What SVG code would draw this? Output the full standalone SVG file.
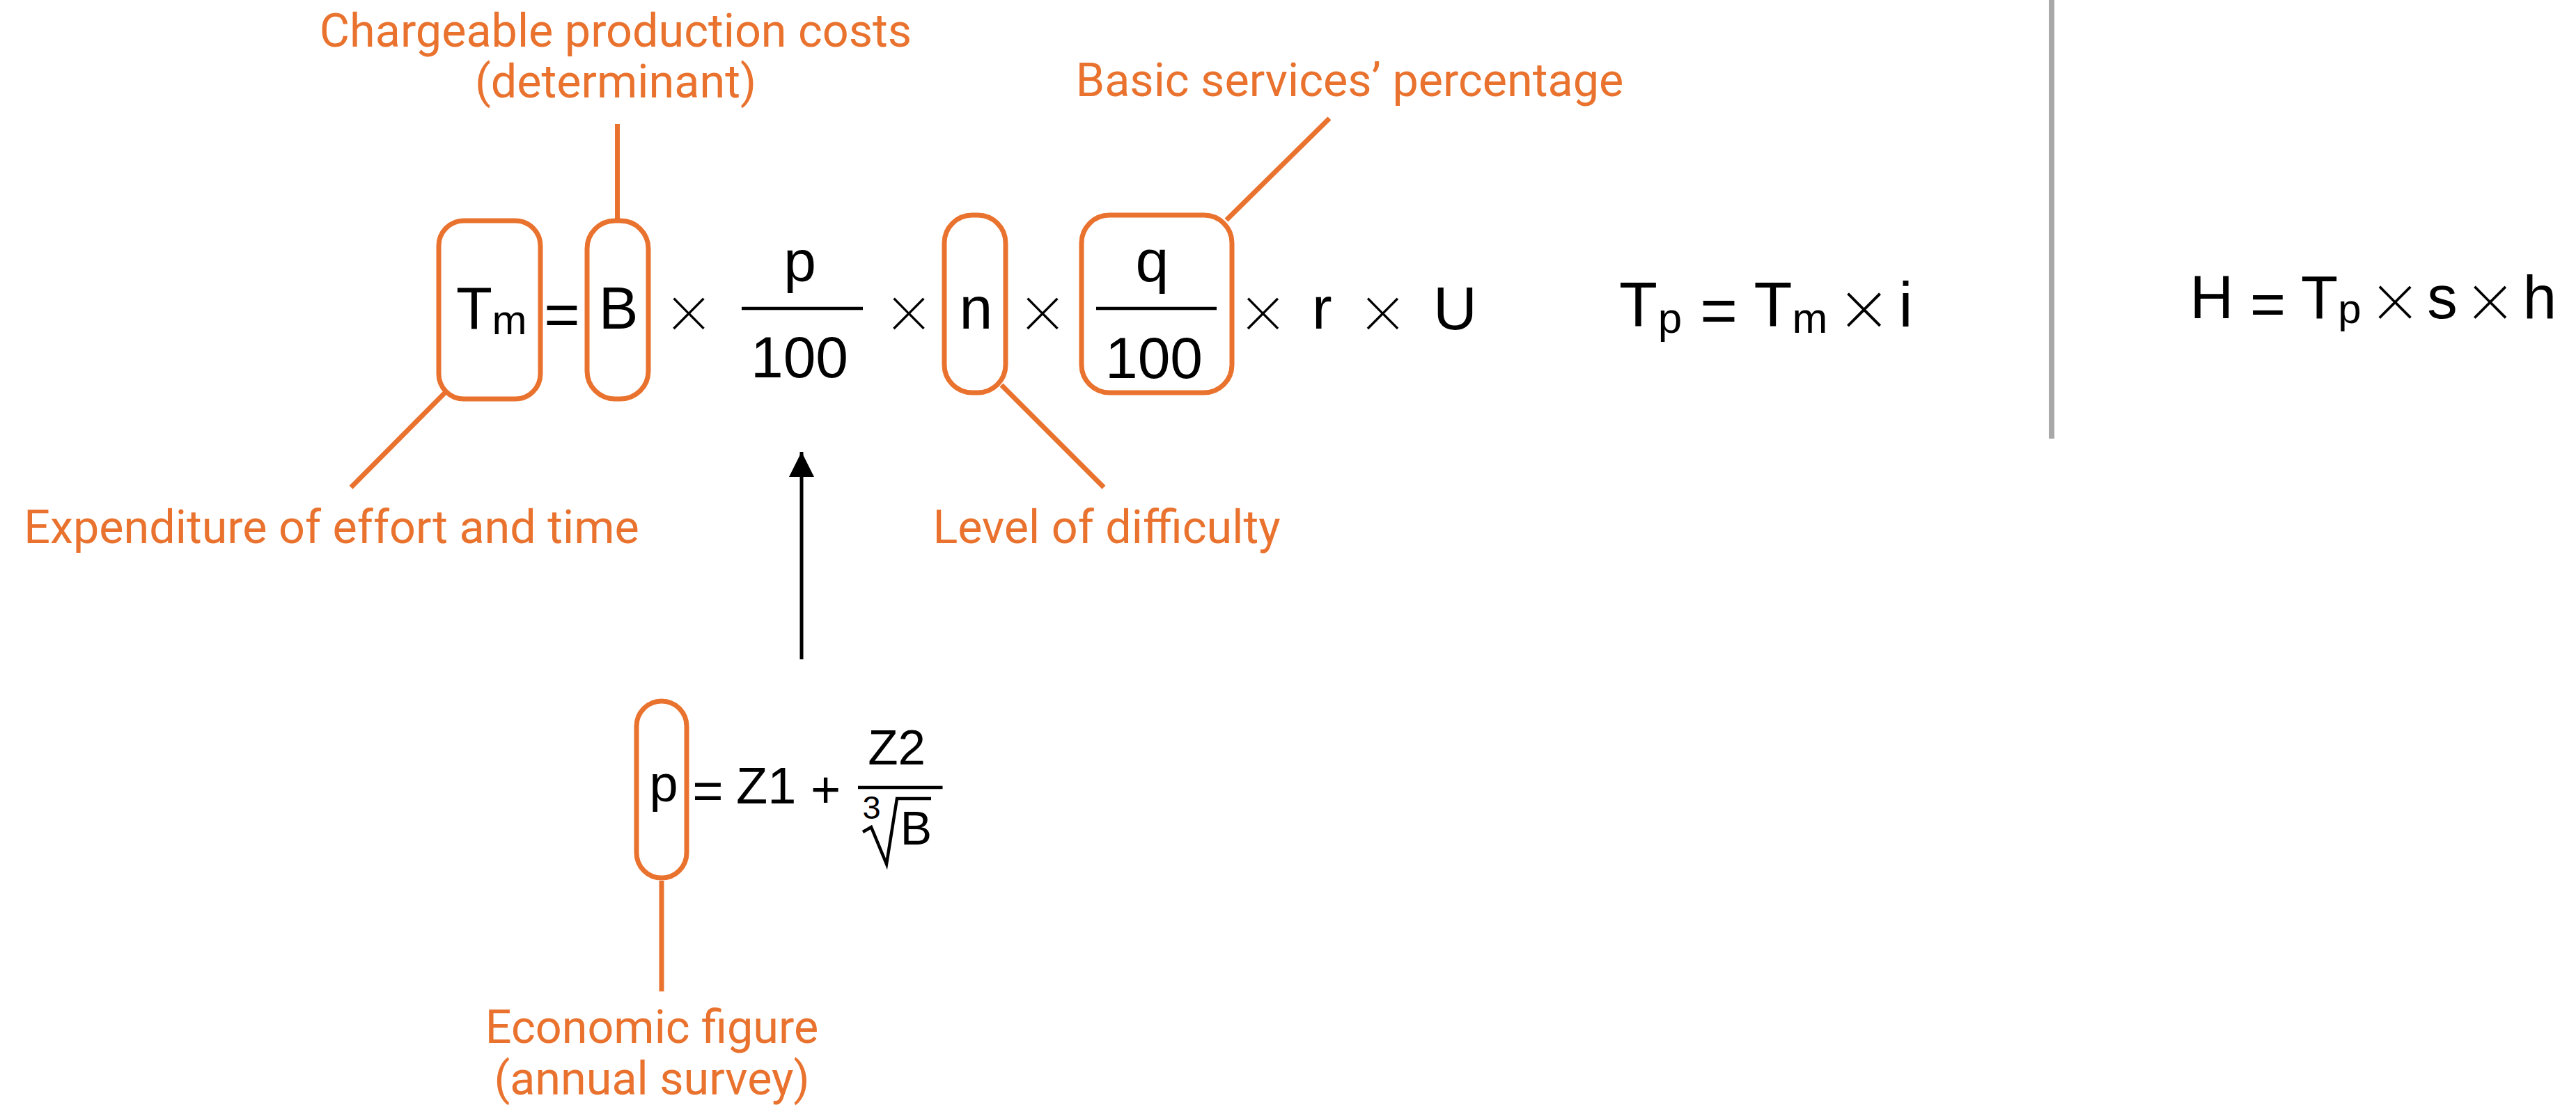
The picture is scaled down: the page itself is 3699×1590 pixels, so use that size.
<svg xmlns="http://www.w3.org/2000/svg" width="3699" height="1590" viewBox="0 0 3699 1590">
<defs>
<style>
.lbl{font-family:Roboto,"Liberation Sans",sans-serif;font-size:66.5px;fill:#E9722E;text-anchor:middle}
.m{font-family:"Liberation Sans",Arial,sans-serif;fill:#000;text-anchor:middle}
.x{font-family:"Liberation Sans",Arial,sans-serif;fill:#000;text-anchor:middle;font-size:118px;stroke:#fff;stroke-width:5px}
.box{fill:none;stroke:#E9722E;stroke-width:7}
.ol{stroke:#E9722E;stroke-width:7;fill:none}
.bar{stroke:#000;stroke-width:4.5}
</style>
<marker id="ah" viewBox="0 0 10 10" refX="10" refY="5" markerWidth="36" markerHeight="36" markerUnits="userSpaceOnUse" orient="auto">
<path d="M0,0 L10,5 L0,10 z" fill="#000"/>
</marker>
</defs>
<rect width="3699" height="1590" fill="#fff"/>

<g id="connectors">
<line class="ol" x1="886.5" y1="178" x2="886.5" y2="314"/>
<line class="ol" x1="639" y1="564" x2="504" y2="700"/>
<line class="ol" x1="1438" y1="553" x2="1585" y2="700"/>
<line class="ol" x1="1761" y1="316" x2="1909" y2="170"/>
<line class="ol" x1="950" y1="1265" x2="950" y2="1424"/>
<line x1="1151" y1="947" x2="1151" y2="649" stroke="#000" stroke-width="5" marker-end="url(#ah)"/>
<line x1="2946" y1="0" x2="2946" y2="630" stroke="#A8A8A8" stroke-width="8"/>
</g>

<g id="label-chargeable">
<text class="lbl" x="884" y="67">Chargeable production costs</text>
<text class="lbl" x="884" y="140">(determinant)</text>
</g>
<g id="label-basic"><text class="lbl" x="1938" y="138">Basic services’ percentage</text></g>
<g id="label-expenditure"><text class="lbl" x="476" y="780">Expenditure of effort and time</text></g>
<g id="label-difficulty"><text class="lbl" x="1589" y="780">Level of difficulty</text></g>
<g id="label-economic">
<text class="lbl" x="936" y="1498">Economic figure</text>
<text class="lbl" x="936" y="1572">(annual survey)</text>
</g>

<g id="node-Tm">
<rect class="box" x="630" y="317" width="146" height="256" rx="36"/>
<text class="m" x="681" y="472" font-size="85">T</text>
<text class="m" x="731.5" y="480" font-size="60">m</text>
</g>
<text class="m" x="807" y="482" font-size="88">=</text>
<g id="node-B">
<rect class="box" x="843" y="317" width="88" height="256" rx="40"/>
<text class="m" x="888" y="472" font-size="85">B</text>
</g>
<text class="x" x="989" y="490">×</text>
<g id="frac-p">
<text class="m" x="1148.5" y="404" font-size="84">p</text>
<line class="bar" x1="1065" y1="443" x2="1239" y2="443"/>
<text class="m" x="1148" y="542" font-size="84">100</text>
</g>
<text class="x" x="1305" y="490">×</text>
<g id="node-n">
<rect class="box" x="1356" y="309" width="88" height="255" rx="40"/>
<text class="m" x="1401.5" y="472" font-size="86">n</text>
</g>
<text class="x" x="1497" y="490">×</text>
<g id="node-q">
<rect class="box" x="1553" y="309" width="216" height="255" rx="40"/>
<text class="m" x="1654.5" y="404" font-size="86">q</text>
<line class="bar" x1="1574" y1="443" x2="1747" y2="443"/>
<text class="m" x="1657" y="543" font-size="84">100</text>
</g>
<text class="x" x="1813.5" y="490">×</text>
<text class="m" x="1884" y="472" font-size="86" style="text-anchor:start">r</text>
<text class="x" x="1985.5" y="490">×</text>
<text class="m" x="2089.5" y="473" font-size="87">U</text>

<g id="formula-Tp">
<text class="m" x="2352.5" y="469" font-size="90">T</text>
<text class="m" x="2398" y="478" font-size="62">p</text>
<text class="m" x="2468" y="478" font-size="92">=</text>
<text class="m" x="2546" y="469" font-size="90">T</text>
<text class="m" x="2599" y="478" font-size="61">m</text>
<text class="x" x="2676.5" y="487" style="font-size:126px">×</text>
<text class="m" x="2736.5" y="469" font-size="90">i</text>
</g>

<g id="formula-H">
<text class="m" x="3176" y="457" font-size="87">H</text>
<text class="m" x="3256.5" y="467" font-size="88">=</text>
<text class="m" x="3330.5" y="457" font-size="87">T</text>
<text class="m" x="3374" y="464" font-size="60">p</text>
<text class="x" x="3439" y="475" style="font-size:122px">×</text>
<text class="m" x="3507" y="457" font-size="87">s</text>
<text class="x" x="3575.5" y="475" style="font-size:122px">×</text>
<text class="m" x="3647" y="457" font-size="87">h</text>
</g>

<g id="node-p">
<rect class="box" x="914" y="1007" width="72" height="254" rx="36"/>
<text class="m" x="953" y="1151" font-size="74">p</text>
</g>
<g id="formula-p">
<text class="m" x="1016.5" y="1162" font-size="76">=</text>
<text class="m" x="1057" y="1154" font-size="74" style="text-anchor:start">Z1</text>
<text class="m" x="1185.5" y="1160" font-size="74">+</text>
<text class="m" x="1287.6" y="1097.5" font-size="71">Z2</text>
<line class="bar" x1="1232" y1="1131" x2="1353.5" y2="1131"/>
<text class="m" x="1251.5" y="1176" font-size="47">3</text>
<path d="M1239,1195 L1251,1188 L1273,1241 L1288,1147 L1337,1147" fill="none" stroke="#000" stroke-width="4.5" stroke-linejoin="miter"/>
<text class="m" x="1315.5" y="1213" font-size="68">B</text>
</g>
</svg>
